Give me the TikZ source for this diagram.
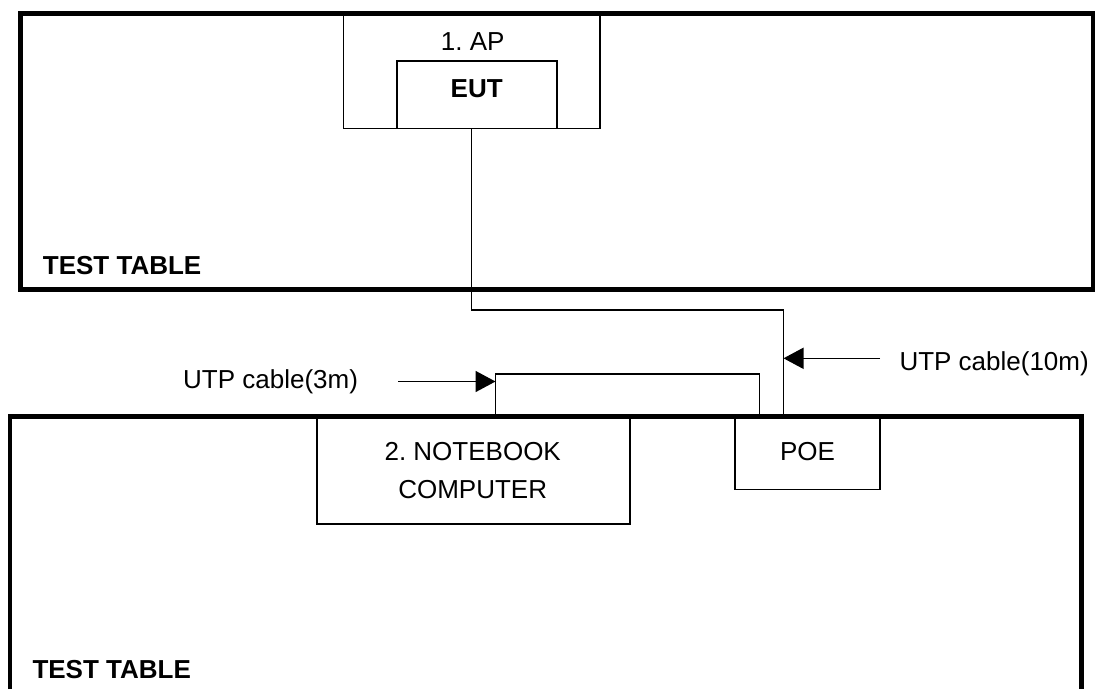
\documentclass[tikz,border=0pt]{standalone}
\usepackage{fontspec}
\setmainfont{Liberation Sans}
\usetikzlibrary{arrows.meta}

\tikzset{
  tableedge/.style={line width=4.3pt, line join=miter},
  box/.style={draw, line width=1.7pt, rectangle, inner sep=0pt, fill=white},
  cable/.style={line width=1.6pt, line join=miter},
  pointer/.style={line width=1.6pt, -{Triangle[length=20pt,width=21pt]}},
  lbl/.style={inner sep=0pt, font=\fontsize{26}{31}\selectfont},
  bold/.style={lbl, font=\fontsize{26}{31}\selectfont\bfseries},
}

\begin{document}
\begin{tikzpicture}[x=1pt, y=-1pt]
  \useasboundingbox (0,0) rectangle (1097,689);
  \fill[white] (0,0) rectangle (1097,689);

  % devices
  \node[box, minimum width=256.7pt, minimum height=114.5pt] (AP) at (471.7,71.2) {};
  \node[box, minimum width=160pt, minimum height=67.3pt] (EUT) at (476.7,94.7) {};
  \node[box, minimum width=313.3pt, minimum height=107.5pt] (NB) at (473.3,470.2) {};
  \node[box, minimum width=145pt, minimum height=73pt] (POE) at (807.5,453) {};

  % cable ports
  \coordinate (eutport) at (471.5,128);
  \coordinate (poeport) at (783.5,416.5);
  \coordinate (poeport2) at (759.5,416.5);
  \coordinate (nbport) at (495.5,416.5);

  % cables
  \draw[cable] (eutport) |- (783.5,310) -- (poeport);
  \draw[cable] (nbport) |- (759.5,374) -- (poeport2);

  % test tables
  \draw[tableedge] (20.5,13.5) rectangle (1093,289.5);
  \draw[tableedge] (10,689) -- (10,416.5) -- (1081.5,416.5) -- (1081.5,689);

  % labels
  \node[lbl, anchor=base] at (472.7,50.7) {1.\ AP};
  \node[bold, anchor=base] at (476.7,97.3) {EUT};
  \node[bold, anchor=base west] at (42.7,274.7) {TEST TABLE};
  \node[bold, anchor=base west] at (32.3,678.3) {TEST TABLE};
  \node[lbl, anchor=base] at (472.7,460) {2.\ NOTEBOOK};
  \node[lbl, anchor=base] at (472.7,498.5) {COMPUTER};
  \node[lbl, anchor=base] at (807.5,460) {POE};
  \node[lbl, anchor=base west] (L3) at (183,388) {UTP cable(3m)};
  \node[lbl, anchor=base west] (L10) at (899.3,370.7) {UTP cable(10m)};

  % cable length pointers
  \coordinate (t3) at (398,381.5);
  \coordinate (h3) at (495.5,381.5);
  \coordinate (t10) at (880,358.3);
  \coordinate (h10) at (783.5,358.3);
  \draw[pointer] (t3) -- (h3);
  \draw[pointer] (t10) -- (h10);
\end{tikzpicture}
\end{document}
